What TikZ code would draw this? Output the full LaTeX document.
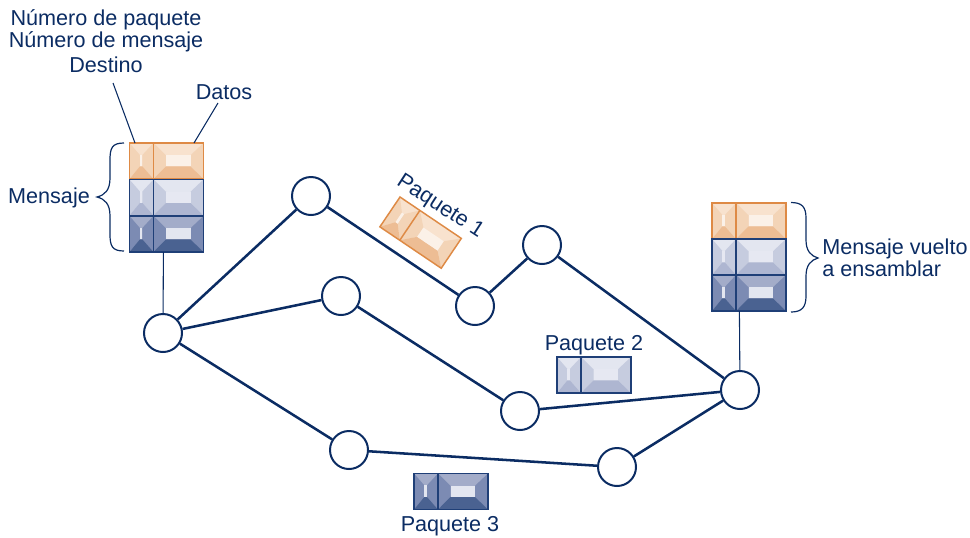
\documentclass[tikz,border=0pt]{standalone}
\usepackage{fontspec}
\setmainfont{Liberation Sans}
\definecolor{navy}{HTML}{0B2C63}
\definecolor{edgeB}{HTML}{1F3F77}
\definecolor{edgeO}{HTML}{DE8A45}
\definecolor{oT}{HTML}{F8E2CE}\definecolor{oS}{HTML}{F3D4B7}\definecolor{oB}{HTML}{EDBD94}\definecolor{oC}{HTML}{FBF1E8}
\definecolor{lT}{HTML}{E3E6F0}\definecolor{lS}{HTML}{C6CCDF}\definecolor{lB}{HTML}{AEB6D1}\definecolor{lC}{HTML}{E6E8F2}
\definecolor{dT}{HTML}{A3ACC9}\definecolor{dS}{HTML}{7C8BB3}\definecolor{dB}{HTML}{4A6291}\definecolor{dC}{HTML}{E3E6F0}
\tikzset{
  x=0.75pt,y=-0.75pt,
  router/.style={circle,draw=navy,fill=white,line width=1.5pt,minimum size=28.5pt,inner sep=0pt},
  link/.style={draw=navy,line width=1.9pt},
  thin link/.style={draw=navy,line width=0.8pt},
  bracket/.style={draw=navy,line width=0.9pt},
  label/.style={text=navy,font=\fontsize{16.2}{17}\selectfont,inner sep=0pt,align=center},
}
% \pcell{x}{y}{w}{h}{ix0}{ix1}{iy0}{iy1}{palette}
\newcommand\pcell[9]{%
  \fill[#9T] (#1,#2) rectangle ++(#3,#4);
  \fill[#9S] (#1,#2) -- ({#1+#3*#5},{#2+#4*#7}) -- ({#1+#3*#5},{#2+#4*#8}) -- (#1,{#2+#4}) -- cycle;
  \fill[#9S] ({#1+#3},#2) -- ({#1+#3*#6},{#2+#4*#7}) -- ({#1+#3*#6},{#2+#4*#8}) -- ({#1+#3},{#2+#4}) -- cycle;
  \fill[#9B] (#1,{#2+#4}) -- ({#1+#3*#5},{#2+#4*#8}) -- ({#1+#3*#6},{#2+#4*#8}) -- ({#1+#3},{#2+#4}) -- cycle;
  \fill[#9C] ({#1+#3*#5},{#2+#4*#7}) rectangle ({#1+#3*#6},{#2+#4*#8});
}
% \packet{x}{y}{palette}{edge}: 74 wide, 36 high, divider at 24
\newcommand\packet[4]{%
  \pcell{#1}{#2}{24}{36}{0.43}{0.54}{0.33}{0.65}{#3}
  \pcell{#1+24}{#2}{50}{36}{0.25}{0.74}{0.34}{0.65}{#3}
  \draw[#4,line width=1.1pt] (#1,#2) rectangle ++(74,36);
  \draw[#4,line width=1.1pt] ({#1+24},#2) -- ++(0,36);
}
\begin{document}
\begin{tikzpicture}
\useasboundingbox (0,0) rectangle (970,537);
% routers
\node[router] (A) at (163,333) {};
\node[router] (B) at (311,196) {};
\node[router] (C) at (341,296) {};
\node[router] (D) at (475,306) {};
\node[router] (E) at (542,245) {};
\node[router] (F) at (520,411) {};
\node[router] (G) at (349,450) {};
\node[router] (H) at (617,467) {};
\node[router] (I) at (740,390) {};
% links
\draw[link] (A) -- (B);
\draw[link] (A) -- (C);
\draw[link] (A) -- (G);
\draw[link] (B) -- (D);
\draw[link] (D) -- (E);
\draw[link] (E) -- (I);
\draw[link] (C) -- (F);
\draw[link] (F) -- (I);
\draw[link] (G) -- (H);
\draw[link] (H) -- (I);
% messages
\packet{129.5}{143}{o}{edgeO}
\packet{129.5}{179.5}{l}{edgeB}
\packet{129.5}{216}{d}{edgeB}
\packet{712}{203}{o}{edgeO}
\packet{712}{239}{l}{edgeB}
\packet{712}{275}{d}{edgeB}
\packet{557}{357}{l}{edgeB}
\packet{414}{473.5}{d}{edgeB}
\begin{scope}[shift={(400,197)},rotate=-34]
\packet{0}{0}{o}{edgeO}
\end{scope}
\coordinate (msgL) at (163.4,252);
\coordinate (msgR) at (739.4,311);
\draw[thin link] (msgL) -- (A);
\draw[thin link] (msgR) -- (I);
% texts
\node[label] (t1) at (106,20) {Número de paquete};
\node[label] (t2) at (106,42) {Número de mensaje};
\node[label] (t3) at (106,64.5) {Destino};
\node[label] (t4) at (224,92) {Datos};
\node[label] (t5) at (49,198) {Mensaje};
\node[label,align=left,anchor=west] (t6) at (822,257.5) {Mensaje vuelto\\[-0.4pt]a ensamblar};
\node[label,rotate=-33] (t7) at (440,207) {Paquete 1};
\node[label] (t8) at (594,345.5) {Paquete 2};
\node[label] (t9) at (450,526) {Paquete 3};
% leaders
\coordinate (l1a) at (113,83);\coordinate (l1b) at (135,143);
\coordinate (l2a) at (218,103);\coordinate (l2b) at (194,143);
\draw[thin link] (l1a) -- (l1b);
\draw[thin link] (l2a) -- (l2b);
% braces
\draw[bracket] (124,143) .. controls (112,143) and (110,148) .. (110,160)
  -- (110,178) .. controls (110,190) and (105,195) .. (97,197)
  .. controls (105,199) and (110,204) .. (110,216)
  -- (110,234) .. controls (110,246) and (112,251) .. (124,251);
\draw[bracket] (791,202.5) .. controls (802,202.5) and (806,207) .. (806,218)
  -- (806,240) .. controls (806,251) and (811,256) .. (818,258)
  .. controls (811,260) and (806,265) .. (806,276)
  -- (806,296) .. controls (806,307) and (802,312) .. (791,312);
\end{tikzpicture}
\end{document}
